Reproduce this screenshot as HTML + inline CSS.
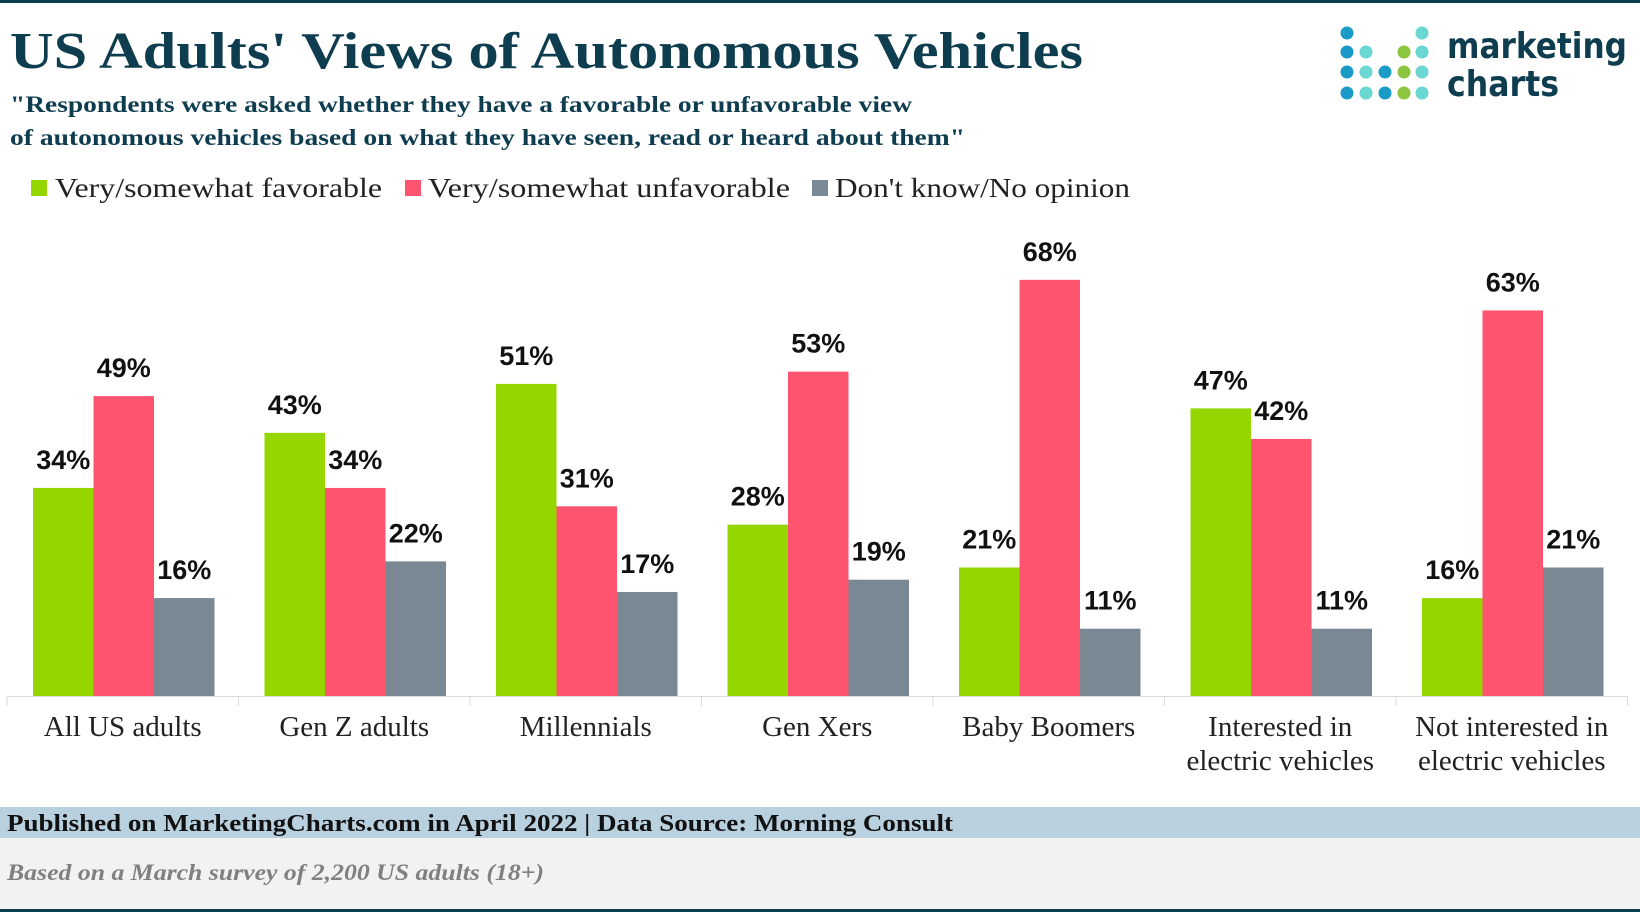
<!DOCTYPE html>
<html><head><meta charset="utf-8"><style>
body{margin:0;background:#fff}
svg{display:block}
</style></head><body>
<svg id="c" width="1640" height="912" xmlns="http://www.w3.org/2000/svg">
<rect x="0" y="0" width="1640" height="3" fill="#0d3d4f"/>
<text x="10" y="68" font-family="Liberation Serif, serif" font-weight="bold" font-size="52" fill="#0d3d4f" textLength="1073" lengthAdjust="spacingAndGlyphs">US Adults' Views of Autonomous Vehicles</text>
<text x="10" y="112" font-family="Liberation Serif, serif" font-weight="bold" font-size="23" fill="#0d3d4f" textLength="902" lengthAdjust="spacingAndGlyphs">"Respondents were asked whether they have a favorable or unfavorable view</text>
<text x="10" y="145" font-family="Liberation Serif, serif" font-weight="bold" font-size="23" fill="#0d3d4f" textLength="955" lengthAdjust="spacingAndGlyphs">of autonomous vehicles based on what they have seen, read or heard about them"</text>
<g id="logo"></g>
<text x="1447" y="58" font-family="DejaVu Sans, sans-serif" font-weight="bold" font-size="36" fill="#0d3d4f" textLength="180" lengthAdjust="spacingAndGlyphs">marketing</text>
<text x="1447" y="96" font-family="DejaVu Sans, sans-serif" font-weight="bold" font-size="36" fill="#0d3d4f" textLength="112" lengthAdjust="spacingAndGlyphs">charts</text>
<g>
<rect x="31" y="180" width="16" height="16" fill="#95d600"/>
<text x="55" y="197" font-family="Liberation Serif, serif" font-size="27" fill="#222" textLength="327" lengthAdjust="spacingAndGlyphs">Very/somewhat favorable</text>
<rect x="405" y="180" width="16" height="16" fill="#ff5470"/>
<text x="428" y="197" font-family="Liberation Serif, serif" font-size="27" fill="#222" textLength="362" lengthAdjust="spacingAndGlyphs">Very/somewhat unfavorable</text>
<rect x="812" y="180" width="16" height="16" fill="#7a8893"/>
<text x="835" y="197" font-family="Liberation Serif, serif" font-size="27" fill="#222" textLength="295" lengthAdjust="spacingAndGlyphs">Don't know/No opinion</text>
</g>
<g id="plot"></g>
<rect x="0" y="807" width="1640" height="31" fill="#b9d0de"/>
<text x="7" y="831" font-family="Liberation Serif, serif" font-weight="bold" font-size="24" fill="#111" textLength="946" lengthAdjust="spacingAndGlyphs">Published on MarketingCharts.com in April 2022 | Data Source: Morning Consult</text>
<rect x="0" y="838" width="1640" height="72" fill="#f2f2f2"/>
<text x="7" y="880" font-family="Liberation Serif, serif" font-style="italic" font-weight="bold" font-size="23" fill="#808080" textLength="537" lengthAdjust="spacingAndGlyphs">Based on a March survey of 2,200 US adults (18+)</text>
<rect x="0" y="909" width="1640" height="3" fill="#0d3d4f"/>
</svg>
<script>
const categories=[["All US adults"],["Gen Z adults"],["Millennials"],["Gen Xers"],["Baby Boomers"],["Interested in","electric vehicles"],["Not interested in","electric vehicles"]];
const favorable=[34,43,51,28,21,47,16];
const unfavorable=[49,34,31,53,68,42,63];
const noOpinion=[16,22,17,19,11,11,21];
const NS="http://www.w3.org/2000/svg";
const plot=document.getElementById('plot');
const x0=7,groupW=231.5,barW=60.5,base=696,pxPer=6.12;
const xScale=i=>x0+i*groupW;
const yScale=v=>base-v*pxPer;
function mk(t,a,p){const e=document.createElementNS(NS,t);for(const k in a)e.setAttribute(k,a[k]);(p||plot).appendChild(e);return e;}
const series=[[favorable,'#95d600','favorable'],[unfavorable,'#ff5470','unfavorable'],[noOpinion,'#7a8893','no-opinion']];
const ax=mk('line',{x1:x0,x2:x0+7*groupW,y1:base+0.5,y2:base+0.5,stroke:'#d9d9d9','stroke-width':1});


for(let i=0;i<=7;i++){const t=mk('line',{x1:xScale(i),x2:xScale(i),y1:base,y2:base+10,stroke:'#d9d9d9'});

}
categories.forEach((c,i)=>{
 series.forEach(([arr,col,nm],s)=>{
  const bx=xScale(i)+26+s*barW,v=arr[i];
  const r=mk('rect',{x:bx,y:yScale(v),width:barW,height:v*pxPer,fill:col});
  
  
  const t=mk('text',{x:bx+barW/2,y:yScale(v)-19,'text-anchor':'middle','font-family':'Liberation Sans, sans-serif','font-weight':'bold','font-size':'27',fill:'#111'});
  t.textContent=v+'%';
  
  
 });
 c.forEach((ln,k)=>{
  const t=mk('text',{x:xScale(i)+groupW/2,y:736+k*34,'text-anchor':'middle','font-family':'Liberation Serif, serif','font-size':'29',fill:'#222'});
  t.textContent=ln;
  
  
 });
});
const logo=document.getElementById('logo');
const cols=[1347,1366,1385,1404,1422],rows=[33,52,72,93];
const B='#1a9bc7',T='#6ad7d3',G='#8cc63f';
const grid=[[B,null,null,null,T],[B,T,null,G,T],[B,T,B,G,T],[B,T,B,G,T]];
grid.forEach((r,ri)=>r.forEach((c,ci)=>{if(!c)return;const d=mk('circle',{cx:cols[ci],cy:rows[ri],r:6.5,fill:c},logo);

}));
</script>
</body></html>
